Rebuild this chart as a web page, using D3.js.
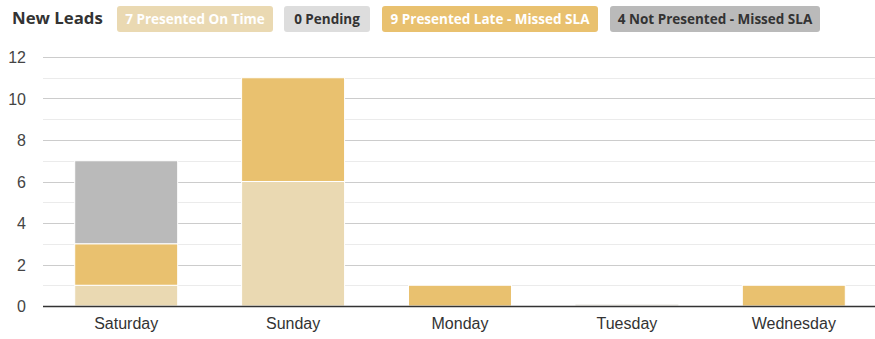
<!DOCTYPE html>
<html><head><meta charset="utf-8">
<script src="https://cdn.jsdelivr.net/npm/d3@7"></script>
<style>body{margin:0;background:#fff;}svg{display:block;}</style>
</head><body>
<svg id="c" width="875" height="339"></svg>
<script>
const categories = ["Saturday","Sunday","Monday","Tuesday","Wednesday"];
const onTime = [1,6,0,0,0];
const pending = [0,0,0,0,0];
const late = [2,5,1,0,1];
const notPresented = [4,0,0,0,0];
const seriesNames = ["Presented On Time","Pending","Presented Late - Missed SLA","Not Presented - Missed SLA"];
const seriesColors = ["#EAD9B2","#DDDDDD","#E9C16F","#BABABA"];
const badgeText = ["#ffffff","#333333","#ffffff","#333333"];
const yTicks = [0,2,4,6,8,10,12];

const svg = d3.select("#c");
const m = {l:43, r:877, t:57, b:306};
const x = d3.scaleBand().domain(categories).range([m.l, m.r]).paddingInner(0.383).paddingOuter(0.19);
const y = d3.scaleLinear().domain([0,12]).range([m.b, m.t]);

// gridlines
const minor = d3.range(1,12,2);
svg.append("g").selectAll("line").data(minor).join("line")
  .attr("x1", m.l).attr("x2", 875).attr("y1", d=>Math.round(y(d))+0.5).attr("y2", d=>Math.round(y(d))+0.5)
  .attr("stroke","#ebebeb");
svg.append("g").selectAll("line").data(yTicks.filter(d=>d>0)).join("line")
  .attr("x1", m.l).attr("x2", 875).attr("y1", d=>Math.round(y(d))+0.5).attr("y2", d=>Math.round(y(d))+0.5)
  .attr("stroke","#cccccc");

// y labels
svg.append("g").selectAll("text").data(yTicks).join("text")
  .attr("x", 26).attr("y", d=>y(d)+6).attr("text-anchor","end")
  .attr("font-family","Liberation Sans, Arial, sans-serif").attr("font-size",16).attr("fill","#444")
  .text(d=>d);

// stacked bars
const rows = categories.map((c,i)=>({cat:c, s0:onTime[i], s1:pending[i], s2:late[i], s3:notPresented[i]}));
const stack = d3.stack().keys(["s0","s1","s2","s3"])(rows);
const g = svg.append("g");
stack.forEach((layer,k)=>{
  g.selectAll(null).data(layer).join("rect")
    .attr("x", d=>x(d.data.cat)).attr("width", x.bandwidth())
    .attr("y", d=>y(d[1])).attr("height", d=>Math.max(0, y(d[0])-y(d[1])))
    .attr("fill", seriesColors[k])
    .attr("stroke", d=>(d[1]-d[0])>0 ? "#ffffff" : "none").attr("stroke-width", 1);
});
// zero-total bars show a faint baseline sliver
g.selectAll(null).data(rows.filter(r=>r.s0+r.s1+r.s2+r.s3===0)).join("rect")
  .attr("x", d=>x(d.cat)).attr("width", x.bandwidth()).attr("y", m.b-1.5).attr("height",1)
  .attr("fill","#e6e3dc");

// x axis
svg.append("line").attr("x1", m.l).attr("x2", 875).attr("y1", m.b+0.5).attr("y2", m.b+0.5)
  .attr("stroke","#333").attr("stroke-width",1.3);
svg.append("g").selectAll("text").data(categories).join("text")
  .attr("x", d=>x(d)+x.bandwidth()/2).attr("y", 329).attr("text-anchor","middle")
  .attr("font-family","Liberation Sans, Arial, sans-serif").attr("font-size",16).attr("fill","#333")
  .text(d=>d);

// header
svg.append("text").attr("x",12).attr("y",24).attr("font-family","Open Sans, sans-serif")
  .attr("font-weight",700).attr("font-size",16.8).attr("fill","#333").text("New Leads");
const totals = [d3.sum(onTime), d3.sum(pending), d3.sum(late), d3.sum(notPresented)];
const badgeX = [117, 284, 382, 610];
const badgeW = [156, 86, 216, 210];
seriesNames.forEach((n,i)=>{
  svg.append("rect").attr("x",badgeX[i]).attr("y",6).attr("width",badgeW[i]).attr("height",26)
    .attr("rx",3).attr("fill",seriesColors[i]);
  svg.append("text").attr("x",badgeX[i]+badgeW[i]/2).attr("y",23.5).attr("text-anchor","middle")
    .attr("font-family","Open Sans, sans-serif").attr("font-weight",700).attr("font-size",13.5)
    .attr("fill",badgeText[i]).text(totals[i]+" "+n);
});
</script>
</body></html>
